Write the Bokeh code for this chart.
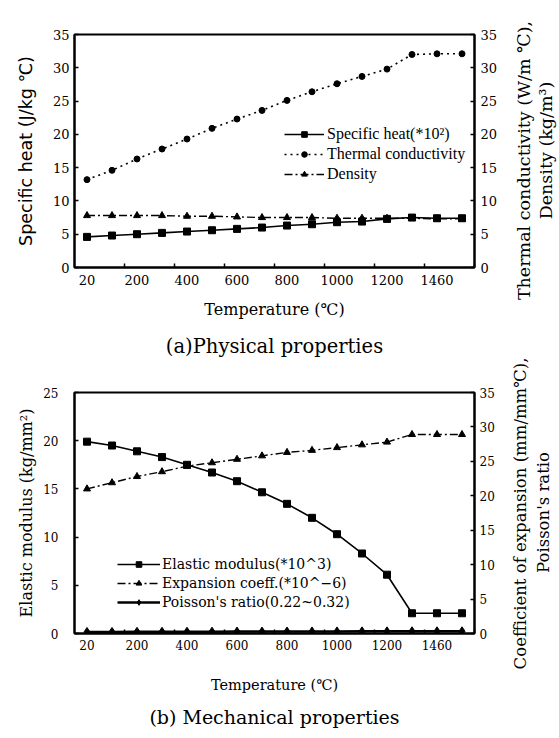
import math
from bokeh.plotting import figure
from bokeh.models import Range1d, LinearAxis, FixedTicker, Legend, LegendItem, Label
from bokeh.layouts import column, row
from bokeh.embed import file_html
from bokeh.resources import INLINE

# ---------------- data ----------------
point_index = list(range(16))                      # category positions along the temperature axis
x_tick_pos = [0, 2, 4, 6, 8, 10, 12, 14]
x_tick_labels = ["20", "200", "400", "600", "800", "1000", "1200", "1460"]

# (a) physical properties
specific_heat = [4.6, 4.8, 5.0, 5.2, 5.4, 5.6, 5.8, 6.0, 6.3, 6.5, 6.8, 6.9, 7.3, 7.5, 7.4, 7.4]
thermal_conductivity = [13.2, 14.6, 16.3, 17.8, 19.3, 20.9, 22.3, 23.6, 25.1, 26.4, 27.6, 28.7, 29.8, 32.0, 32.1, 32.1]
density = [7.8, 7.8, 7.8, 7.8, 7.7, 7.7, 7.6, 7.5, 7.5, 7.5, 7.4, 7.4, 7.4, 7.4, 7.3, 7.3]

# (b) mechanical properties
elastic_modulus = [19.9, 19.5, 18.9, 18.3, 17.5, 16.7, 15.8, 14.65, 13.45, 12.0, 10.3, 8.3, 6.1, 2.1, 2.1, 2.1]
expansion_coeff = [21.0, 21.9, 22.8, 23.5, 24.3, 24.8, 25.3, 25.8, 26.3, 26.6, 27.0, 27.4, 27.8, 28.9, 28.9, 28.9]
poisson_ratio = [0.22, 0.23, 0.24, 0.25, 0.26, 0.27, 0.28, 0.28, 0.29, 0.30, 0.30, 0.31, 0.31, 0.32, 0.32, 0.32]

top_y_ticks = [0, 5, 10, 15, 20, 25, 30, 35]
bot_left_ticks = [0, 5, 10, 15, 20, 25]
bot_right_ticks = [0, 5, 10, 15, 20, 25, 30, 35]

right_titles = ["Thermal conductivity (W/m \u2103),", "Density (kg/m\u00b3)",
                "Coefficient of expansion (mm/mm\u2103),", "Poisson's ratio"]

SERIF = "DejaVu Serif"
PAGE_H = 738
MAIN_W = 504
SIDE_W = 559 - MAIN_W


def style_axis(ax, tick_size, standoff, label_size, label_standoff, tick_in=4):
    ax.axis_line_color = "black"
    ax.axis_line_width = 2
    ax.major_tick_in = tick_in
    ax.major_tick_out = 0
    ax.major_tick_line_width = 1.5
    ax.minor_tick_line_color = None
    ax.major_label_text_font = SERIF
    ax.major_label_text_font_size = f"{tick_size}px"
    ax.major_label_text_color = "black"
    ax.major_label_standoff = standoff
    ax.axis_label_text_font = SERIF
    ax.axis_label_text_font_size = f"{label_size}px"
    ax.axis_label_text_font_style = "normal"
    ax.axis_label_text_color = "black"
    ax.axis_label_standoff = label_standoff


def style_xaxis(ax, tick_size, standoff, label_size, label_standoff):
    ax.ticker = FixedTicker(ticks=x_tick_pos, minor_ticks=[p + 1.5 for p in x_tick_pos])
    ax.major_label_overrides = {p: t for p, t in zip(x_tick_pos, x_tick_labels)}
    style_axis(ax, tick_size, standoff, label_size, label_standoff)
    ax.major_tick_line_color = None
    ax.minor_tick_line_color = "black"
    ax.minor_tick_line_width = 1.5
    ax.minor_tick_in = 4
    ax.minor_tick_out = 0


def base_fig(height, title, left, right, top, bottom, y_end, title_size, title_standoff):
    p = figure(width=MAIN_W, height=height, x_range=Range1d(-0.5, 15.5), y_range=Range1d(0, y_end),
               output_backend="svg", toolbar_location=None,
               min_border_left=left, min_border_right=right, min_border_top=top,
               min_border_bottom=bottom, title=title, title_location="below")
    p.xgrid.visible = False
    p.ygrid.visible = False
    p.outline_line_color = "black"
    p.outline_line_width = 2
    p.background_fill_color = "white"
    p.border_fill_color = "white"
    p.title.align = "center"
    p.title.text_font = SERIF
    p.title.text_font_style = "normal"
    p.title.text_font_size = f"{title_size}px"
    p.title.text_color = "black"
    p.title.standoff = title_standoff
    return p


# ================= (a) =================
p1 = base_fig(370, "(a)Physical properties", 65, MAIN_W - 479, 34, 103, 35, 19.5, 22)
p1.extra_y_ranges = {"right": Range1d(0, 35)}
style_xaxis(p1.xaxis[0], 13, 7, 16, 12)
p1.xaxis[0].axis_label = "Temperature (\u2103)"
p1.yaxis[0].ticker = FixedTicker(ticks=top_y_ticks)
style_axis(p1.yaxis[0], 13, 5, 17.5, 14)
p1.yaxis[0].axis_label = "Specific heat (J/kg \u2103)"
p1.yaxis[0].axis_label_text_font = "DejaVu Sans"
r1 = LinearAxis(y_range_name="right", ticker=FixedTicker(ticks=top_y_ticks))
style_axis(r1, 13, 6, 16, 14)
p1.add_layout(r1, "right")

l_sh = p1.line(point_index, specific_heat, line_color="black", line_width=1.6)
s_sh = p1.scatter(point_index, specific_heat, marker="square", size=7, color="black")
l_tc = p1.line(point_index, thermal_conductivity, line_color="black", line_width=1.6,
               line_dash="2 4", y_range_name="right")
s_tc = p1.scatter(point_index, thermal_conductivity, marker="circle", size=6, color="black",
                  y_range_name="right")
l_de = p1.line(point_index, density, line_color="black", line_width=1.4,
               line_dash="8 3 2 3", y_range_name="right")
s_de = p1.scatter(point_index, density, marker="triangle", size=7, color="black",
                  y_range_name="right")

leg1 = Legend(items=[
    LegendItem(label="Specific heat(*10\u00b2)", renderers=[l_sh, s_sh]),
    LegendItem(label="Thermal conductivity", renderers=[l_tc, s_tc]),
    LegendItem(label="Density", renderers=[l_de, s_de]),
], location=(210, 83))

# ================= (b) =================
p2 = base_fig(368, "(b) Mechanical properties", 74, MAIN_W - 474, 22, 105, 25, 19, 17)
p2.extra_y_ranges = {"right": Range1d(0, 35)}
style_xaxis(p2.xaxis[0], 12, 6, 14.5, 24)
p2.xaxis[0].axis_label = "Temperature (\u2103)"
p2.yaxis[0].ticker = FixedTicker(ticks=bot_left_ticks)
style_axis(p2.yaxis[0], 12, 16, 16, 4)
p2.yaxis[0].axis_label = "Elastic modulus (kg/mm\u00b2)"
r2 = LinearAxis(y_range_name="right", ticker=FixedTicker(ticks=bot_right_ticks))
style_axis(r2, 12, 5, 14, 16)
p2.add_layout(r2, "right")

l_em = p2.line(point_index, elastic_modulus, line_color="black", line_width=1.6)
s_em = p2.scatter(point_index, elastic_modulus, marker="square", size=7, color="black")
l_ex = p2.line(point_index, expansion_coeff, line_color="black", line_width=1.4,
               line_dash="8 3 2 3", y_range_name="right")
s_ex = p2.scatter(point_index, expansion_coeff, marker="triangle", size=7, color="black",
                  y_range_name="right")
l_pr = p2.line(point_index, poisson_ratio, line_color="black", line_width=2.5, y_range_name="right")
s_pr = p2.scatter(point_index, poisson_ratio, marker="diamond", size=9, color="black",
                  y_range_name="right")

leg2 = Legend(items=[
    LegendItem(label="Elastic modulus(*10^3)", renderers=[l_em, s_em]),
    LegendItem(label="Expansion coeff.(*10^\u22126)", renderers=[l_ex, s_ex]),
    LegendItem(label="Poisson's ratio(0.22~0.32)", renderers=[l_pr, s_pr]),
], location=(43, 22))

for lg, gw in [(leg1, 40), (leg2, 43)]:
    lg.border_line_color = None
    lg.background_fill_alpha = 0
    lg.padding = 0
    lg.margin = 0
    lg.spacing = 0
    lg.glyph_width = gw
    lg.glyph_height = 14
    lg.label_height = 20
    lg.label_standoff = 3
    lg.label_text_font = SERIF
    lg.label_text_font_size = "14px"
    lg.label_text_color = "black"

leg1.label_text_font = "Liberation Serif"
leg1.label_text_font_size = "16px"
leg1.label_height = 20
leg2.label_height = 19
leg2.label_standoff = 2
p1.add_layout(leg1, "center")
p2.add_layout(leg2, "center")

# ============ right-hand axis titles (read bottom-to-top) ============
side = figure(width=SIDE_W, height=PAGE_H, x_range=Range1d(0, SIDE_W), y_range=Range1d(0, PAGE_H),
              x_axis_type=None, y_axis_type=None, output_backend="svg", toolbar_location=None,
              min_border=0)
side.xgrid.visible = False
side.ygrid.visible = False
side.outline_line_color = None
side.background_fill_color = "white"
side.border_fill_color = "white"
# centres in page pixels (x from left of this strip, y from the page top)
label_cx = [19, 41, 16, 39]
label_cy = [160, 150, 513, 512]
label_size = [17.5, 17.5, 16.5, 16.5]
for t, cx, cy, fs in zip(right_titles, label_cx, label_cy, label_size):
    side.add_layout(Label(x=cx, y=PAGE_H - cy, text=t, angle=math.pi / 2, text_align="center",
                          text_baseline="middle", text_font=SERIF,
                          text_font_size=f"{fs}px", text_color="black"))

layout = row(column(p1, p2, spacing=0), side, spacing=0)
open("out.html", "w").write(file_html(layout, INLINE))
